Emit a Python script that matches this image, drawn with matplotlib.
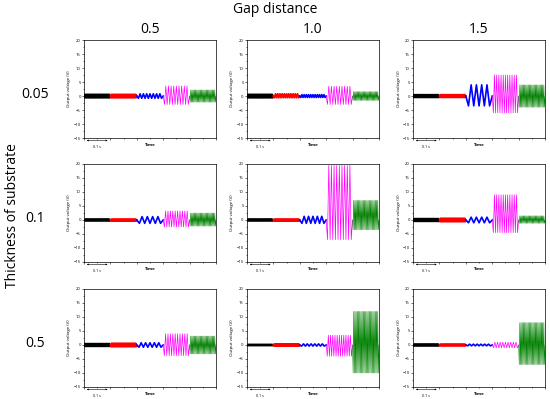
import numpy as np
import matplotlib
matplotlib.use("Agg")
import matplotlib.pyplot as plt
from matplotlib.ticker import MultipleLocator
from matplotlib.transforms import blended_transform_factory

plt.rcParams['font.family'] = ['Open Sans', 'DejaVu Sans']

# --- data --------------------------------------------------------------
gap_labels = ['0.5', '1.0', '1.5']
thick_labels = ['0.05', '0.1', '0.5']
seg_colors = ['black', 'red', 'blue', 'magenta', 'green']
seg_len = 0.1  # s, each coloured segment

# upper / lower peak voltage per segment (black, red, blue, magenta, green)
# one row per gap distance
vmax_005 = [[0.6, 0.6, 0.8, 3.6, 2.2], [0.6, 0.8, 0.5, 3.5, 1.6], [0.5, 0.5, 4.0, 7.5, 4.0]]
vmin_005 = [[-0.6, -0.6, -0.8, -3.0, -2.2], [-0.6, -0.6, -0.5, -3.0, -1.6], [-0.5, -0.5, -3.5, -6.0, -4.0]]
vmax_01 = [[0.3, 0.3, 1.2, 3.2, 2.5], [0.3, 0.3, 1.3, 19.5, 7.0], [0.5, 0.6, 1.0, 9.0, 1.5]]
vmin_01 = [[-0.3, -0.4, -1.2, -2.5, -2.2], [-0.3, -0.4, -1.2, -7.0, -3.5], [-0.5, -0.6, -1.0, -4.5, -1.2]]
vmax_05 = [[0.5, 0.6, 0.8, 4.0, 3.2], [0.2, 0.4, 0.4, 3.5, 12.0], [0.3, 0.3, 0.3, 1.0, 8.0]]
vmin_05 = [[-0.5, -0.6, -0.8, -3.8, -3.2], [-0.2, -0.4, -0.4, -4.0, -10.0], [-0.3, -0.3, -0.3, -1.0, -7.0]]

# oscillation cycles per segment
cycles_005 = [[25, 25, 8, 10, 22], [25, 12, 12, 10, 22], [25, 25, 5, 12, 22]]
cycles_01 = [[25, 25, 5, 11, 22], [25, 25, 6, 10, 22], [25, 25, 5, 12, 22]]
cycles_05 = [[25, 25, 6, 11, 22], [25, 25, 7, 12, 22], [25, 25, 7, 10, 22]]

vmax_rows = [vmax_005, vmax_01, vmax_05]
vmin_rows = [vmin_005, vmin_01, vmin_05]
cycle_rows = [cycles_005, cycles_01, cycles_05]

# --- layout ------------------------------------------------------------
fig = plt.figure(figsize=(5.5, 3.99), dpi=100)
lefts = [0.1527, 0.449, 0.751]
bottoms = [0.654, 0.3434, 0.0301]
w, h = 0.24, 0.2456
line_w = {'black': 1.3, 'red': 1.3, 'blue': 1.2, 'magenta': 0.5, 'green': 0.4}

for i in range(3):
    for j in range(3):
        ax = fig.add_axes([lefts[j], bottoms[i], w, h])
        hi_s, lo_s, cyc = vmax_rows[i][j], vmin_rows[i][j], cycle_rows[i][j]
        for k, col in enumerate(seg_colors):
            n = cyc[k]
            t = np.linspace(k * seg_len, (k + 1) * seg_len, 2 * n + 1)
            v = np.where(np.arange(2 * n + 1) % 2 == 0, hi_s[k], lo_s[k])
            v[0] = v[-1] = 0
            ax.plot(t, v, color=col, lw=line_w[col])

        ax.set_xlim(0, 5 * seg_len)
        ax.set_ylim(-15, 20)
        ax.yaxis.set_major_locator(MultipleLocator(5))
        ax.yaxis.set_minor_locator(MultipleLocator(2.5))
        ax.xaxis.set_major_locator(MultipleLocator(seg_len))
        ax.xaxis.set_minor_locator(MultipleLocator(seg_len / 2))
        ax.set_xticklabels([])
        ax.tick_params(which='both', direction='out', width=0.4, labelsize=3, pad=0.8,
                       top=False, right=False)
        ax.tick_params(which='major', length=1.6)
        ax.tick_params(which='minor', length=0.9)
        for sp in ax.spines.values():
            sp.set_linewidth(0.5)
        ax.set_ylabel('Output voltage (V)', fontsize=3.2, labelpad=1.5)

        # 0.1 s scale bar and Time label
        tr = blended_transform_factory(ax.transData, ax.transAxes)
        ax.annotate('', xy=(0, -0.025), xytext=(seg_len, -0.025), xycoords=tr, textcoords=tr,
                    arrowprops=dict(arrowstyle='<|-|>', lw=0.4, mutation_scale=2, color='black'),
                    annotation_clip=False)
        ax.text(seg_len / 2, -0.07, '0.1 s', transform=tr, fontsize=2.6, ha='center', va='top')
        ax.text(0.5, -0.055, 'Time', transform=ax.transAxes, fontsize=3.2, fontweight='bold',
                ha='center', va='top')

        if i == 0:
            ax.text(0.5, 1.03, gap_labels[j], transform=ax.transAxes, fontsize=10,
                    ha='center', va='bottom')
    fig.text(0.064, bottoms[i] + h * 0.44, thick_labels[i], fontsize=10, ha='center', va='center')

fig.text(0.5, 0.975, 'Gap distance', fontsize=10, ha='center', va='center')
fig.text(0.022, 0.46, 'Thickness of substrate', fontsize=10, rotation=90, ha='center', va='center')

fig.savefig('out.png', dpi=100)
